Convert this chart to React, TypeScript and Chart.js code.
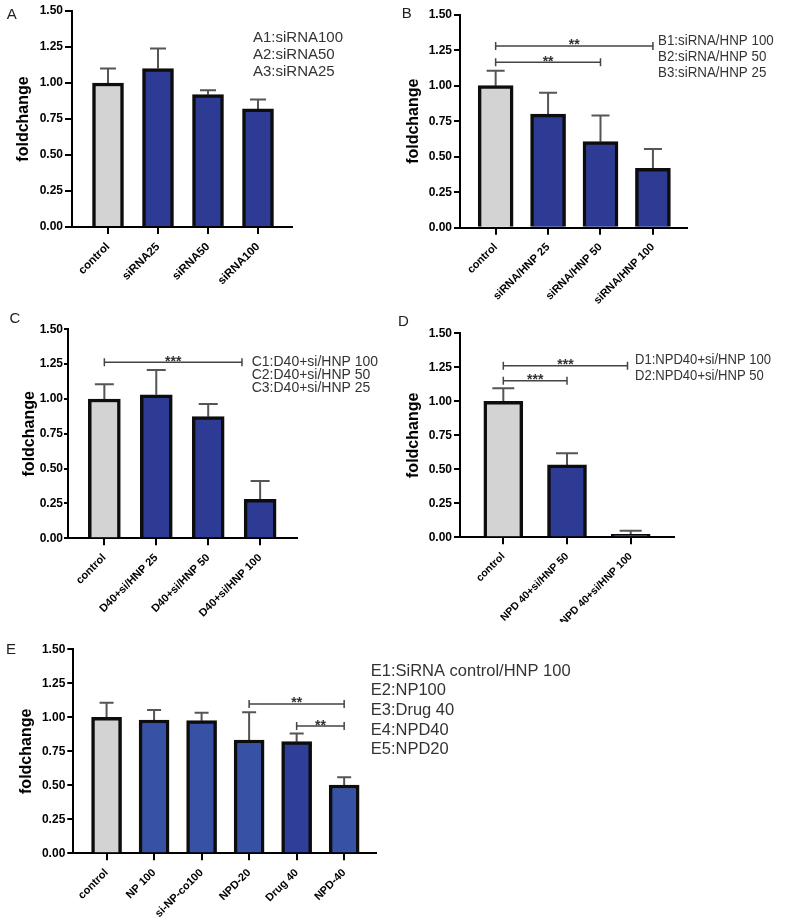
import React, { useEffect, useRef } from 'react';
import { Chart, registerables } from 'chart.js';

Chart.register(...registerables);

// ---------------- DATA ----------------
const labelsA = ['control', 'siRNA25', 'siRNA50', 'siRNA100'];
const valuesA = [1.0, 1.1, 0.92, 0.82];
const sdA = [0.1, 0.14, 0.03, 0.065];
const legendA = ['A1:siRNA100', 'A2:siRNA50', 'A3:siRNA25'];

const labelsB = ['control', 'siRNA/HNP 25', 'siRNA/HNP 50', 'siRNA/HNP 100'];
const valuesB = [1.0, 0.8, 0.606, 0.418];
const sdB = [0.105, 0.15, 0.184, 0.136];
const legendB = ['B1:siRNA/HNP 100', 'B2:siRNA/HNP 50', 'B3:siRNA/HNP 25'];
const sigB = [
  { from: 0, to: 3, y: 1.28, text: '**' },
  { from: 0, to: 2, y: 1.165, text: '**' },
];

const labelsC = ['control', 'D40+si/HNP 25', 'D40+si/HNP 50', 'D40+si/HNP 100'];
const valuesC = [1.0, 1.03, 0.873, 0.28];
const sdC = [0.105, 0.178, 0.091, 0.131];
const legendC = ['C1:D40+si/HNP 100', 'C2:D40+si/HNP 50', 'C3:D40+si/HNP 25'];
const sigC = [{ from: 0, to: 2.65, y: 1.263, text: '***' }];

const labelsD = ['control', 'NPD 40+si/HNP 50', 'NPD 40+si/HNP 100'];
const valuesD = [1.0, 0.532, 0.022];
const sdD = [0.096, 0.086, 0.027];
const legendD = ['D1:NPD40+si/HNP 100', 'D2:NPD40+si/HNP 50'];
const sigD = [
  { from: 0, to: 1.95, y: 1.262, text: '***' },
  { from: 0, to: 1, y: 1.151, text: '***' },
];

const labelsE = ['control', 'NP 100', 'si-NP-co100', 'NPD-20', 'Drug 40', 'NPD-40'];
const valuesE = [1.0, 0.98, 0.975, 0.833, 0.821, 0.502];
const sdE = [0.107, 0.074, 0.059, 0.204, 0.059, 0.058];
const legendE = ['E1:SiRNA control/HNP 100', 'E2:NP100', 'E3:Drug 40', 'E4:NPD40', 'E5:NPD20'];
const sigE = [
  { from: 3, to: 5, y: 1.098, text: '**' },
  { from: 4, to: 5, y: 0.936, text: '**' },
];

const yMin = 0;
const yMax = 1.5;
const yStep = 0.25;

// ---------------- STYLE ----------------
const FONT = "'Liberation Sans', Arial, Helvetica, sans-serif";
const GRAY = '#d3d3d3';
const BLUE = '#2d3b94';
const BLUE_E = '#3752a5';
const BLUE_E_DARK = '#2e3e99';

type Sig = { from: number; to: number; y: number; text: string };
type PanelCfg = {
  letter: string;
  letterPos: [number, number];
  box: { left: number; top: number; width: number; height: number };
  axisX: number; topY: number; bottomY: number; rightX: number; titleX: number;
  xMin: number; xMax: number;
  barW: number; capW: number; xFont: number; yTickLen: number; yTickPad: number;
  labels: string[]; values: number[]; sd: number[]; colors: string[];
  legend: string[]; legendX: number; legendY: number[]; legendSize: number; legendSx: number;
  sig: Sig[];
};

const panels: PanelCfg[] = [
  {
    letter: 'A', letterPos: [11.7, 15],
    box: { left: 0, top: 0, width: 390, height: 300 },
    axisX: 72, topY: 11, bottomY: 227, rightX: 292, titleX: 24,
    xMin: -0.72, xMax: 3.68, barW: 31, capW: 16, xFont: 11.5, yTickLen: 7, yTickPad: 2,
    labels: labelsA, values: valuesA, sd: sdA, colors: [GRAY, BLUE, BLUE, BLUE],
    legend: legendA, legendX: 253, legendY: [38.3, 55, 71.7], legendSize: 15, legendSx: 1,
    sig: [],
  },
  {
    letter: 'B', letterPos: [406.7, 13.7],
    box: { left: 390, top: 0, width: 395, height: 305 },
    axisX: 460, topY: 14.7, bottomY: 227.7, rightX: 687, titleX: 414,
    xMin: -0.68, xMax: 3.65, barW: 35, capW: 18, xFont: 11, yTickLen: 6, yTickPad: 2,
    labels: labelsB, values: valuesB, sd: sdB, colors: [GRAY, BLUE, BLUE, BLUE],
    legend: legendB, legendX: 658, legendY: [40.7, 56.7, 73.3], legendSize: 15, legendSx: 0.89,
    sig: sigB,
  },
  {
    letter: 'C', letterPos: [15, 319],
    box: { left: 0, top: 300, width: 390, height: 320 },
    axisX: 68, topY: 329.3, bottomY: 538.3, rightX: 297, titleX: 30,
    xMin: -0.7, xMax: 3.71, barW: 32, capW: 19, xFont: 11, yTickLen: 4, yTickPad: 1,
    labels: labelsC, values: valuesC, sd: sdC, colors: [GRAY, BLUE, BLUE, BLUE],
    legend: legendC, legendX: 251.7, legendY: [362, 375, 388], legendSize: 14, legendSx: 1,
    sig: sigC,
  },
  {
    letter: 'D', letterPos: [403.3, 322],
    box: { left: 390, top: 300, width: 395, height: 322 },
    axisX: 460, topY: 333.3, bottomY: 537.3, rightX: 674, titleX: 414,
    xMin: -0.68, xMax: 2.68, barW: 39, capW: 22, xFont: 10.5, yTickLen: 6, yTickPad: 2,
    labels: labelsD, values: valuesD, sd: sdD, colors: [GRAY, BLUE, BLUE],
    legend: legendD, legendX: 635, legendY: [360, 376], legendSize: 15, legendSx: 0.87,
    sig: sigD,
  },
  {
    letter: 'E', letterPos: [11, 650],
    box: { left: 0, top: 625, width: 600, height: 297 },
    axisX: 73.3, topY: 649.3, bottomY: 853.3, rightX: 376, titleX: 27,
    xMin: -0.7, xMax: 5.67, barW: 30, capW: 14, xFont: 11, yTickLen: 6, yTickPad: 2,
    labels: labelsE, values: valuesE, sd: sdE, colors: [GRAY, BLUE_E, BLUE_E, BLUE_E, BLUE_E_DARK, BLUE_E],
    legend: legendE, legendX: 370.7, legendY: [671.7, 690.7, 710.7, 730, 749.3], legendSize: 16.5, legendSx: 1,
    sig: sigE,
  },
];

// ---------------- PLUGIN ----------------
const annotPlugin = {
  id: 'annot',
  beforeDatasetsDraw(chart: any, _args: any, opts: any) {
    const p: PanelCfg = opts.panel;
    const xs = chart.scales.x;
    const ys = chart.scales.y;
    const ctx = chart.ctx;
    ctx.save();
    ctx.strokeStyle = '#555';
    ctx.lineWidth = 2;
    p.values.forEach((v, i) => {
      const x = xs.getPixelForValue(i);
      const y0 = ys.getPixelForValue(v);
      const y1 = ys.getPixelForValue(v + p.sd[i]);
      ctx.beginPath();
      ctx.moveTo(x, y0);
      ctx.lineTo(x, y1);
      ctx.moveTo(x - p.capW / 2, y1);
      ctx.lineTo(x + p.capW / 2, y1);
      ctx.stroke();
    });
    ctx.restore();
  },
  afterDraw(chart: any, _args: any, opts: any) {
    const p: PanelCfg = opts.panel;
    const xs = chart.scales.x;
    const ys = chart.scales.y;
    const ctx = chart.ctx;
    const ox = p.box.left;
    const oy = p.box.top;
    ctx.save();
    // significance brackets
    p.sig.forEach((s) => {
      const x1 = xs.getPixelForValue(s.from);
      const x2 = xs.getPixelForValue(s.to);
      const y = ys.getPixelForValue(s.y);
      ctx.strokeStyle = '#444';
      ctx.lineWidth = 1.5;
      ctx.beginPath();
      ctx.moveTo(x1, y);
      ctx.lineTo(x2, y);
      ctx.moveTo(x1, y - 4);
      ctx.lineTo(x1, y + 4);
      ctx.moveTo(x2, y - 4);
      ctx.lineTo(x2, y + 4);
      ctx.stroke();
      ctx.fillStyle = '#333';
      ctx.font = `bold 14px ${FONT}`;
      ctx.textAlign = 'center';
      ctx.textBaseline = 'alphabetic';
      ctx.fillText(s.text, (x1 + x2) / 2, y + 3.5);
    });
    // legend text
    ctx.fillStyle = '#333';
    ctx.font = `${p.legendSize}px ${FONT}`;
    ctx.textAlign = 'left';
    ctx.textBaseline = 'middle';
    p.legend.forEach((t, i) => {
      ctx.save();
      ctx.translate(p.legendX - ox, p.legendY[i] - oy);
      ctx.scale(p.legendSx, 1);
      ctx.fillText(t, 0, 0);
      ctx.restore();
    });
    // panel letter
    ctx.fillStyle = '#222';
    ctx.font = `15px ${FONT}`;
    ctx.textAlign = 'center';
    ctx.textBaseline = 'middle';
    ctx.fillText(p.letter, p.letterPos[0] - ox, p.letterPos[1] - oy);
    ctx.restore();
  },
};

function buildChart(canvas: HTMLCanvasElement, p: PanelCfg) {
  const b = p.box;
  const padLeft = p.titleX - b.left - 9.6;
  const yW = p.axisX - b.left - padLeft;
  const padTop = p.topY - b.top;
  const padRight = b.width - (p.rightX - b.left);
  const xH = b.height - (p.bottomY - b.top);
  return new Chart(canvas, {
    type: 'bar',
    data: {
      datasets: [
        {
          data: p.values.map((v, i) => ({ x: i, y: v })),
          backgroundColor: p.colors,
          borderColor: '#0d0d0d',
          borderWidth: 3.5,
          borderSkipped: 'start',
          barThickness: p.barW,
        } as any,
      ],
    },
    options: {
      responsive: false,
      animation: false,
      devicePixelRatio: 1,
      events: [],
      layout: { padding: { left: padLeft, top: padTop, right: padRight, bottom: 0 } },
      plugins: {
        legend: { display: false },
        tooltip: { enabled: false },
        annot: { panel: p },
      } as any,
      scales: {
        x: {
          type: 'linear',
          min: p.xMin,
          max: p.xMax,
          offset: false,
          bounds: 'data',
          afterBuildTicks: (s: any) => {
            s.ticks = p.labels.map((_, i) => ({ value: i }));
          },
          afterFit: (s: any) => {
            s.height = xH;
          },
          ticks: {
            autoSkip: false,
            minRotation: 45,
            maxRotation: 45,
            padding: 6,
            color: '#000',
            font: { family: FONT, size: p.xFont, weight: 'bold' },
            callback: (v: any) => p.labels[Math.round(Number(v))] ?? '',
          },
          grid: {
            display: true,
            drawOnChartArea: false,
            drawTicks: true,
            tickLength: 7,
            color: '#000',
            lineWidth: 2,
            offset: false,
          },
          border: { display: true, color: '#000', width: 2 },
        } as any,
        y: {
          type: 'linear',
          min: yMin,
          max: yMax,
          afterFit: (s: any) => {
            s.width = yW;
          },
          ticks: {
            stepSize: yStep,
            padding: p.yTickPad,
            color: '#000',
            font: { family: FONT, size: 12, weight: 'bold' },
            callback: (v: any) => Number(v).toFixed(2),
          },
          title: {
            display: true,
            text: 'foldchange',
            color: '#000',
            padding: 0,
            font: { family: FONT, size: 16, weight: 'bold' },
          },
          grid: {
            display: true,
            drawOnChartArea: false,
            drawTicks: true,
            tickLength: p.yTickLen,
            color: '#000',
            lineWidth: 2,
          },
          border: { display: true, color: '#000', width: 2 },
        } as any,
      },
    },
    plugins: [annotPlugin as any],
  });
}

function Panel({ p }: { p: PanelCfg }) {
  const ref = useRef<HTMLCanvasElement | null>(null);
  useEffect(() => {
    if (!ref.current) return;
    const chart = buildChart(ref.current, p);
    return () => chart.destroy();
  }, [p]);
  return (
    <canvas
      ref={ref}
      width={p.box.width}
      height={p.box.height}
      style={{
        position: 'absolute',
        left: p.box.left,
        top: p.box.top,
        width: p.box.width,
        height: p.box.height,
      }}
    />
  );
}

export default function App() {
  return (
    <div
      style={{
        position: 'absolute',
        left: 0,
        top: 0,
        width: 785,
        height: 922,
        background: '#fff',
        overflow: 'hidden',
      }}
    >
      {panels.map((p) => (
        <Panel key={p.letter} p={p} />
      ))}
    </div>
  );
}
